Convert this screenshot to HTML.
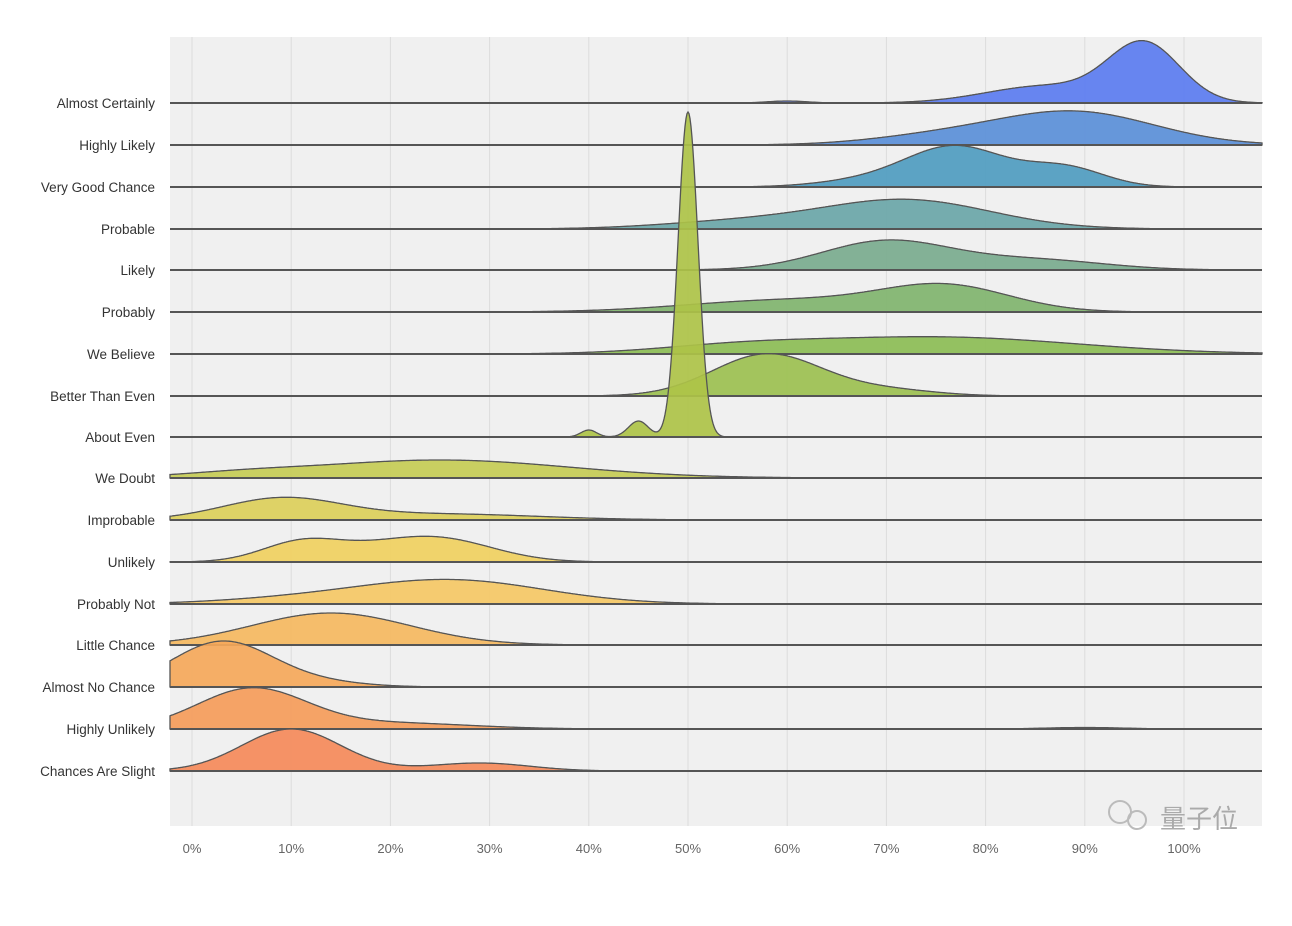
<!DOCTYPE html>
<html><head><meta charset="utf-8"><style>
html,body{margin:0;padding:0;background:#fff;width:1292px;height:926px;overflow:hidden}
svg{display:block}
text{font-family:"Liberation Sans","Noto Sans CJK SC",sans-serif}
</style></head><body>
<svg id="s" width="1292" height="926" xmlns="http://www.w3.org/2000/svg">
<rect x="170" y="37" width="1092" height="789" fill="#f0f0f0"/>
<g id="grid"></g>
<g id="rows"></g>
<g id="labels" font-size="13.5" fill="#333" text-anchor="end"></g>
<g id="ticks" font-size="13" fill="#666" text-anchor="middle"></g>
<text x="1160" y="828" font-size="26" fill="#aaa">量子位</text>
<circle cx="1120" cy="812" r="11" fill="none" stroke="#bbb" stroke-width="2"/>
<circle cx="1137" cy="820" r="9" fill="none" stroke="#bbb" stroke-width="2"/>
</svg>
<script>
var NS="http://www.w3.org/2000/svg";
function X(p){return 192+p*9.92;}
function el(t,a,par,txt){var e=document.createElementNS(NS,t);for(var k in a)e.setAttribute(k,a[k]);if(txt)e.textContent=txt;document.getElementById(par).appendChild(e);return e;}
for(var i=0;i<=10;i++){var x=X(i*10);el('line',{x1:x,x2:x,y1:37,y2:826,stroke:'#dcdcdc','stroke-width':1},'grid');
el('text',{x:x,y:853},'ticks',(i*10)+'%');}
var rows=[
["Almost Certainly",103,"#5b7cf0",[[96,3.6,58],[86,6,17],[60,2,2]]],
["Highly Likely",145,"#5a8fd8",[[89,8,33],[75,7,8]]],
["Very Good Chance",187,"#4f9cc0",[[77,5,40],[88,4,19],[68,5,6]]],
["Probable",229,"#6aa6a8",[[72,8.5,29],[55,8,7]]],
["Likely",270,"#7aab8e",[[70,6.5,29],[85,7,10]]],
["Probably",312,"#80b46e",[[76,6.5,25],[60,10,12]]],
["We Believe",354,"#8cbd55",[[75,14,17],[55,8,6]]],
["Better Than Even",396,"#9cc050",[[58,5.5,42],[70,5,6]]],
["About Even",437,"#aec348",[[50,1.0,325],[45,1,16],[40,0.8,7]]],
["We Doubt",478,"#c5cc55",[[25,13,18],[5,6,3]]],
["Improbable",520,"#dccf5a",[[9,6,21],[25,10,6]]],
["Unlikely",562,"#f0d060",[[11,4,19],[25,5.5,22],[18,5,8]]],
["Probably Not",604,"#f5c865",[[26,9.5,24],[10,8,4]]],
["Little Chance",645,"#f5b860",[[14,8,32]]],
["Almost No Chance",687,"#f5a85a",[[3,5,45],[12,5,5]]],
["Highly Unlikely",729,"#f59c5a",[[6,5.5,40],[20,8,6],[90,4,1.5]]],
["Chances Are Slight",771,"#f58a5a",[[10,5,42],[29,5,8]]]
];
rows.forEach(function(r){
 var base=r[1],d="M170,"+base;
 for(var px=170;px<=1262;px+=1){var p=(px-192)/9.92,h=0;
  r[3].forEach(function(c){h+=c[2]*Math.exp(-0.5*Math.pow((p-c[0])/c[1],2));});
  d+=" L"+px+","+(base-h).toFixed(1);}
 d+=" L1262,"+base+" Z";
 el('path',{d:d,fill:r[2],'fill-opacity':0.92,stroke:'#555','stroke-width':1.3},'rows');
 el('line',{x1:170,x2:1262,y1:base,y2:base,stroke:'#555','stroke-width':2},'rows');
 el('text',{x:155,y:base+5},'labels',r[0]);
});
</script>
</body></html>
